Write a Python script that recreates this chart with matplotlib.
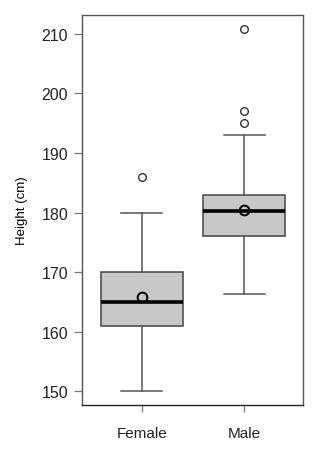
import matplotlib
matplotlib.use("Agg")
import matplotlib.pyplot as plt

# summary stats
groups = ["Female", "Male"]
whislo = [150.0, 166.3]
q1 = [161.0, 176.0]
med = [165.0, 180.3]
q3 = [170.0, 183.0]
whishi = [180.0, 193.0]
means = [165.8, 180.5]
fliers = [[186.0], [195.0, 197.0, 210.8]]

plt.rcParams['font.family'] = ['Liberation Sans', 'DejaVu Sans']

stats = []
for i in range(len(groups)):
    stats.append(dict(label=groups[i], whislo=whislo[i], q1=q1[i], med=med[i],
                      q3=q3[i], whishi=whishi[i], mean=means[i], fliers=fliers[i]))

fig = plt.figure(figsize=(3.23, 4.52), dpi=100)
ax = fig.add_axes([0.254, 0.102, 0.684, 0.863])

edge = "#444444"
ax.bxp(stats, positions=[1, 2], widths=0.8, patch_artist=True, showmeans=True,
       boxprops=dict(facecolor="#c8c8c8", edgecolor=edge, linewidth=1.1),
       whiskerprops=dict(color="#555555", linewidth=1.1, linestyle="-"),
       capprops=dict(color="#555555", linewidth=1.1),
       capwidths=0.4,
       medianprops=dict(color="black", linewidth=2.6),
       meanprops=dict(marker="o", markerfacecolor="none", markeredgecolor="black",
                      markersize=7, markeredgewidth=1.4),
       flierprops=dict(marker="o", markerfacecolor="none", markeredgecolor="#333333",
                       markersize=5.5, markeredgewidth=1.0))

ax.set_xlim(0.418, 2.572)
ax.set_ylim(147.7, 213.2)
ax.set_yticks([150, 160, 170, 180, 190, 200, 210])
ax.set_xticks([1, 2])
ax.set_xticklabels(groups)
ax.set_ylabel("Height (cm)", fontsize=9.5, labelpad=10)

for s in ax.spines.values():
    s.set_color("#555555")
    s.set_linewidth(1.0)
ax.spines["bottom"].set_color("#222222")

ax.tick_params(axis="y", direction="out", length=6, width=0.9, color="#777777",
               labelsize=11.5, labelcolor="#222222", pad=4)
ax.tick_params(axis="x", direction="out", length=5, width=0.9, color="#777777",
               labelsize=11, labelcolor="#222222", pad=10)

fig.savefig("out.png", dpi=100)
